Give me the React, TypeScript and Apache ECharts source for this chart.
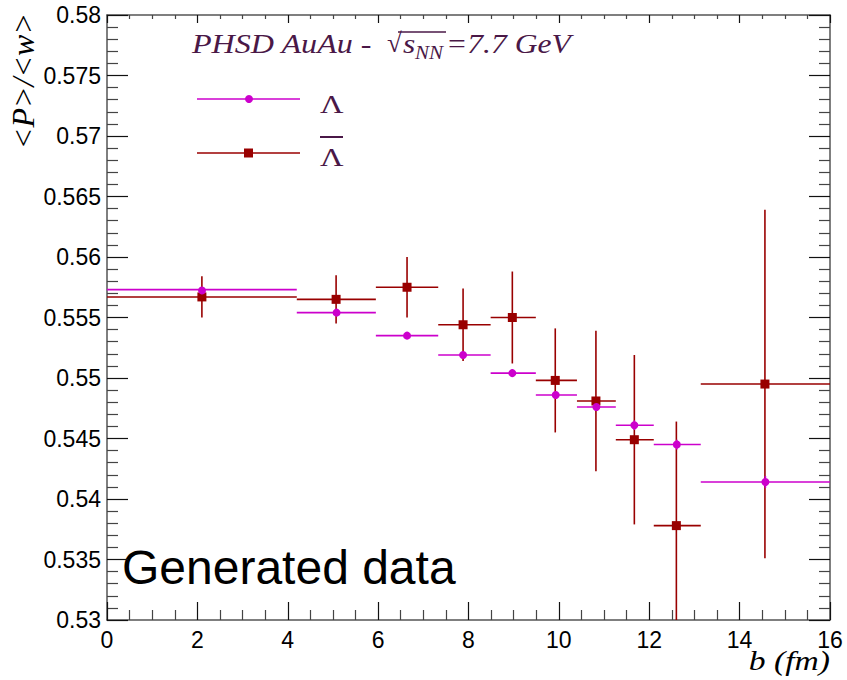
import React, { useEffect, useRef } from "react";
import * as echarts from "echarts";

// impact parameter bins (fm)
const binLow = [0, 4.2, 5.95, 7.33, 8.49, 9.49, 10.4, 11.26, 12.1, 13.14];
const binHigh = [4.2, 5.95, 7.33, 8.49, 9.49, 10.4, 11.26, 12.1, 13.14, 16];
const lambdaB = [2.1, 5.08, 6.64, 7.88, 8.97, 9.93, 10.83, 11.67, 12.61, 14.57];
const lambdaVal = [0.5573, 0.5554, 0.5535, 0.5519, 0.5504, 0.5486, 0.5476, 0.5461, 0.5445, 0.5414];
const lambdaErr = [0.0002, 0.0002, 0.0002, 0.0003, 0.0003, 0.0003, 0.0003, 0.0004, 0.0004, 0.0005];
const antiB = [2.1, 5.07, 6.64, 7.88, 8.97, 9.92, 10.82, 11.67, 12.6, 14.56];
const antiVal = [0.5567, 0.5565, 0.5575, 0.5544, 0.555, 0.5498, 0.5481, 0.5449, 0.5378, 0.5495];
const antiErr = [0.0017, 0.002, 0.0025, 0.003, 0.0038, 0.0043, 0.0058, 0.007, 0.0086, 0.0144];

const xTicks = { min: 0, max: 16, interval: 2 };
const yTicks = { min: 0.53, max: 0.58, interval: 0.005 };

const MAGENTA = "#cc00cc";
const DARKRED = "#990000";
const TEXTPURPLE = "#4a1847";

function makeSeries(name: string, xs: number[], ys: number[], errs: number[], color: string, square: boolean, z: number) {
  const data = xs.map((x, i) => [x, ys[i], binLow[i], binHigh[i], errs[i]]);
  return {
    type: "custom",
    name,
    z,
    clip: true,
    data,
    encode: { x: 0, y: 1 },
    renderItem: (params: any, api: any) => {
      const x = api.value(0);
      const y = api.value(1);
      const lo = api.value(2);
      const hi = api.value(3);
      const e = api.value(4);
      const cs = params.coordSys;
      const clampY = (v: number) => Math.max(cs.y, Math.min(cs.y + cs.height, v));
      const clampX = (v: number) => Math.max(cs.x, Math.min(cs.x + cs.width, v));
      const pL = api.coord([lo, y]);
      const pR = api.coord([hi, y]);
      const pT = api.coord([x, y + e]);
      const pB = api.coord([x, y - e]);
      const c = api.coord([x, y]);
      const lineStyle = { stroke: color, lineWidth: 1.6 };
      const children: any[] = [
        { type: "line", shape: { x1: clampX(pL[0]), y1: pL[1], x2: clampX(pR[0]), y2: pR[1] }, style: lineStyle },
        { type: "line", shape: { x1: pT[0], y1: clampY(pT[1]), x2: pB[0], y2: clampY(pB[1]) }, style: lineStyle },
      ];
      if (square) {
        children.push({ type: "rect", shape: { x: c[0] - 4.5, y: c[1] - 4.5, width: 9, height: 9 }, style: { fill: color } });
      } else {
        children.push({ type: "circle", shape: { cx: c[0], cy: c[1], r: 4 }, style: { fill: color } });
      }
      return { type: "group", children };
    },
  };
}

export default function App() {
  const ref = useRef<HTMLDivElement>(null);
  useEffect(() => {
    if (!ref.current) return;
    const chart = echarts.init(ref.current, undefined, { renderer: "svg" });
    const axisLine = { show: true, onZero: false, lineStyle: { color: "#555", width: 1.5 } };
    const labelFont = { fontFamily: "Liberation Sans", fontSize: 23, color: "#000" };
    const fmt = (v: number) => String(parseFloat(v.toFixed(3)));
    const MAJ = "#111";
    const MIN = "#444";
    const option: any = {
      animation: false,
      backgroundColor: "#fff",
      grid: { left: 107, right: 17, top: 15, bottom: 60, containLabel: false },
      xAxis: [
        {
          type: "value", position: "bottom", ...xTicks,
          axisLine, splitLine: { show: false },
          axisTick: { show: true, inside: true, length: 18, lineStyle: { color: MAJ, width: 1.2 } },
          minorTick: { show: true, splitNumber: 4, length: 10, lineStyle: { color: MIN, width: 1.2 } },
          axisLabel: { ...labelFont, margin: 8, formatter: (v: number) => String(v) },
        },
        {
          type: "value", position: "top", ...xTicks,
          axisLine, splitLine: { show: false },
          axisTick: { show: true, inside: true, length: 8, lineStyle: { color: MAJ, width: 1.2 } },
          minorTick: { show: true, splitNumber: 4, length: 4, lineStyle: { color: MIN, width: 1.2 } },
          axisLabel: { show: false },
        },
      ],
      yAxis: [
        {
          type: "value", position: "left", ...yTicks,
          axisLine, splitLine: { show: false },
          axisTick: { show: true, inside: true, length: 21, lineStyle: { color: MAJ, width: 1.2 } },
          minorTick: { show: true, splitNumber: 5, length: 11, lineStyle: { color: MIN, width: 1.2 } },
          axisLabel: { ...labelFont, margin: 6, formatter: fmt },
        },
        {
          type: "value", position: "right", ...yTicks,
          axisLine, splitLine: { show: false },
          axisTick: { show: true, inside: true, length: 21, lineStyle: { color: MAJ, width: 1.2 } },
          minorTick: { show: true, splitNumber: 5, length: 11, lineStyle: { color: MIN, width: 1.2 } },
          axisLabel: { show: false },
        },
      ],
      series: [
        makeSeries("anti-Lambda", antiB, antiVal, antiErr, DARKRED, true, 2),
        makeSeries("Lambda", lambdaB, lambdaVal, lambdaErr, MAGENTA, false, 3),
      ],
      graphic: [
        // title
        { type: "text", x: 192, y: 30, scaleX: 1.19, style: { text: "PHSD AuAu -", font: "italic 27px 'Liberation Serif'", fill: TEXTPURPLE, align: "left", verticalAlign: "top" } },
        { type: "text", x: 387, y: 29, style: { text: "√", font: "27px 'Liberation Serif'", fill: TEXTPURPLE, align: "left", verticalAlign: "top" } },
        { type: "line", shape: { x1: 398, y1: 32, x2: 446, y2: 32 }, style: { stroke: TEXTPURPLE, lineWidth: 1.3 } },
        { type: "text", x: 403, y: 30, scaleX: 1.17, style: { text: "s", font: "italic 27px 'Liberation Serif'", fill: TEXTPURPLE, align: "left", verticalAlign: "top" } },
        { type: "text", x: 415, y: 44, scaleX: 1.17, style: { text: "NN", font: "italic 18px 'Liberation Serif'", fill: TEXTPURPLE, align: "left", verticalAlign: "top" } },
        { type: "text", x: 446, y: 30, scaleX: 1.17, style: { text: "=7.7 GeV", font: "italic 27px 'Liberation Serif'", fill: TEXTPURPLE, align: "left", verticalAlign: "top" } },
        // legend
        { type: "line", shape: { x1: 197, y1: 99, x2: 300, y2: 99 }, style: { stroke: MAGENTA, lineWidth: 2, opacity: 0.75 } },
        { type: "circle", shape: { cx: 249, cy: 99, r: 4 }, style: { fill: MAGENTA } },
        { type: "text", x: 320, y: 104, scaleX: 1.3, style: { text: "Λ", font: "25px 'Liberation Serif'", fill: TEXTPURPLE, align: "left", verticalAlign: "middle" } },
        { type: "line", shape: { x1: 197, y1: 153, x2: 300, y2: 153 }, style: { stroke: DARKRED, lineWidth: 2, opacity: 0.75 } },
        { type: "rect", shape: { x: 244, y: 148.5, width: 9, height: 9 }, style: { fill: DARKRED } },
        { type: "text", x: 320, y: 157, scaleX: 1.3, style: { text: "Λ", font: "25px 'Liberation Serif'", fill: TEXTPURPLE, align: "left", verticalAlign: "middle" } },
        { type: "line", shape: { x1: 320, y1: 137, x2: 343, y2: 137 }, style: { stroke: TEXTPURPLE, lineWidth: 2 } },
        // axis titles
        {
          type: "text", x: 23, y: 13, rotation: Math.PI / 2,
          style: { text: "<P>/<w>", font: "italic 32px 'Liberation Serif'", fill: "#000", align: "right", verticalAlign: "middle" },
        },
        { type: "text", x: 830, y: 660, scaleX: 1.2, style: { text: "b (fm)", font: "italic 28px 'Liberation Serif'", fill: "#000", align: "right", verticalAlign: "middle" } },
        // annotation
        { type: "text", left: 122, top: 543, style: { text: "Generated data", font: "48px 'Liberation Sans'", fill: "#000" } },
      ],
    };
    chart.setOption(option);
    return () => chart.dispose();
  }, []);
  return (
    <div
      ref={ref}
      style={{ position: "absolute", left: 0, top: 0, width: 847, height: 680 }}
    />
  );
}
